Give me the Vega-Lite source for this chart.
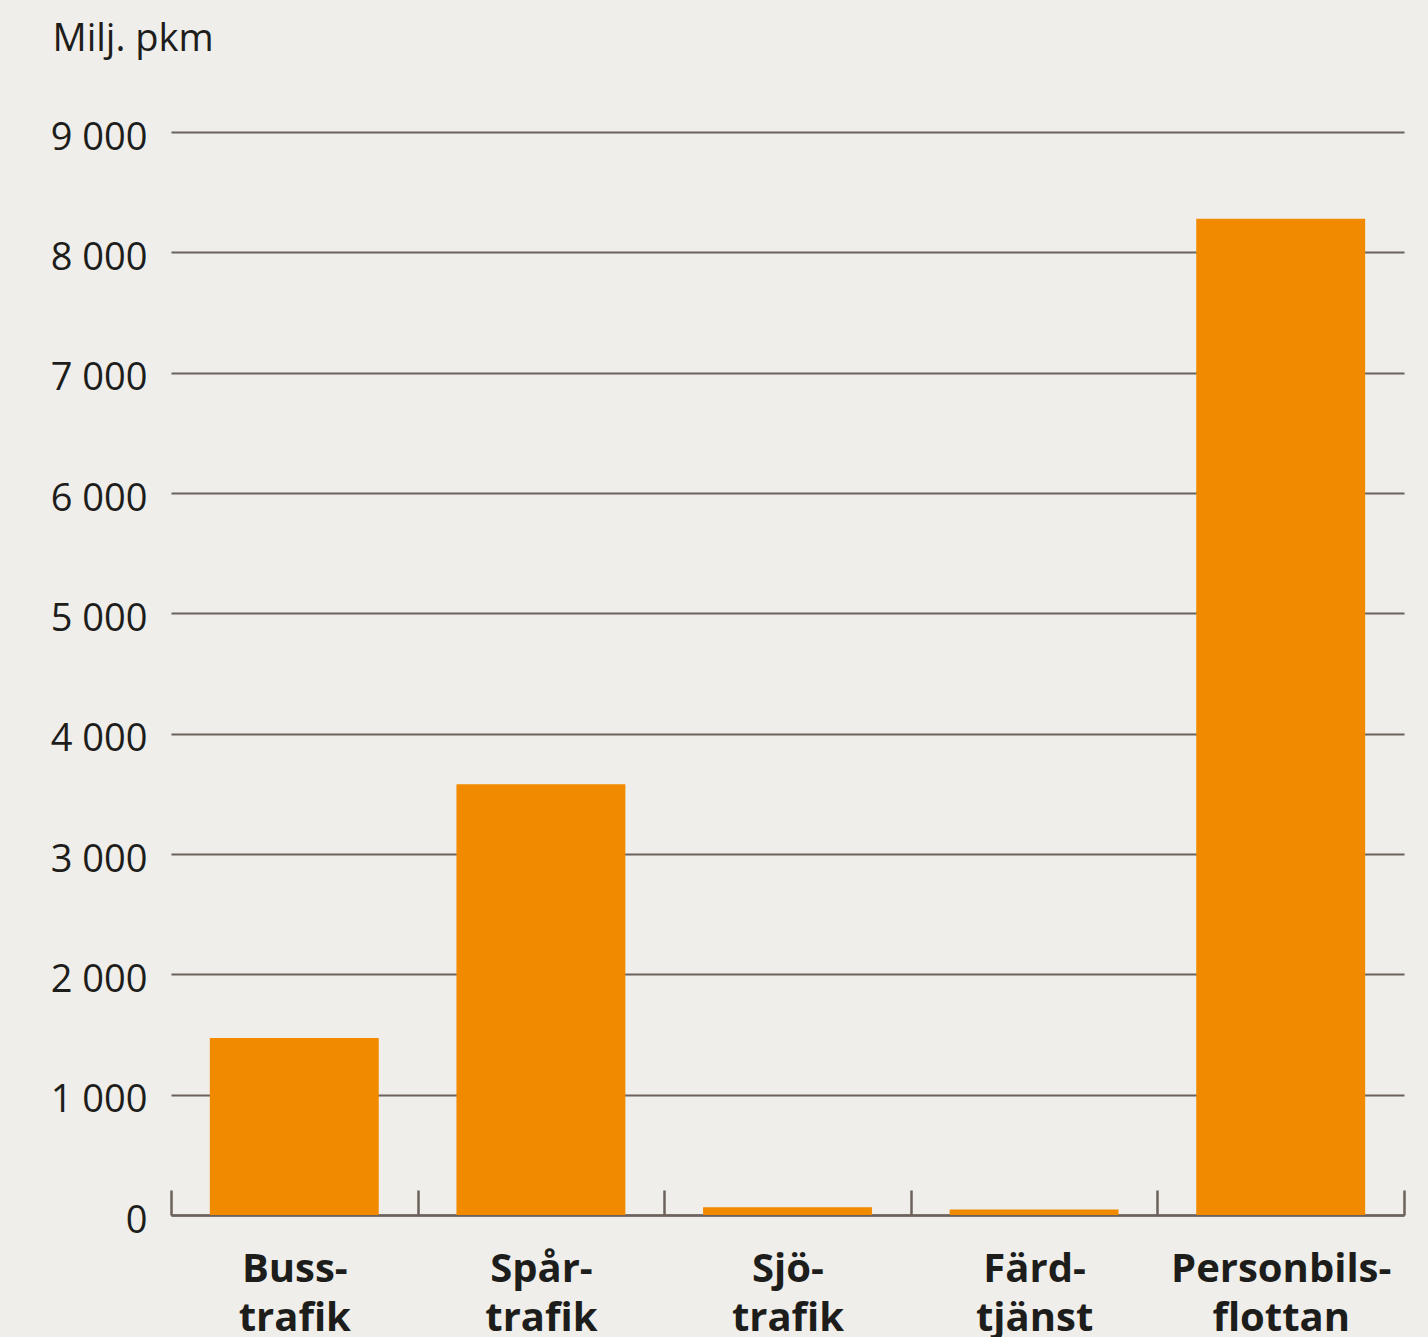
{
  "$schema": "https://vega.github.io/schema/vega-lite/v6.json",
  "width": 1233,
  "height": 1083,
  "autosize": {"type": "none"},
  "padding": {"left": 171, "top": 132, "right": 24, "bottom": 122},
  "background": "#efeeea",
  "config": {
    "view": {"stroke": null},
    "font": "Open Sans"
  },
  "data": {
    "values": [
      {"kategori": "Buss-|trafik", "pkm": 1470},
      {"kategori": "Spår-|trafik", "pkm": 3580},
      {"kategori": "Sjö-|trafik", "pkm": 65},
      {"kategori": "Färd-|tjänst", "pkm": 45},
      {"kategori": "Personbils-|flottan", "pkm": 8280}
    ]
  },
  "mark": {"type": "bar", "color": "#f28a00", "width": {"band": 0.685}},
  "encoding": {
    "x": {
      "field": "kategori",
      "type": "nominal",
      "sort": null,
      "scale": {"paddingInner": 0, "paddingOuter": 0},
      "axis": {
        "title": null,
        "labelAngle": 0,
        "labelExpr": "split(datum.label, '|')",
        "labelFont": "Open Sans",
        "labelFontSize": 40,
        "labelFontWeight": "bold",
        "labelColor": "#1d1d1b",
        "labelLineHeight": 49,
        "labelPadding": 59,
        "labelLimit": 0,
        "tickBand": "extent",
        "tickSize": -25,
        "tickWidth": 2.5,
        "tickColor": "#6d615c",
        "domainColor": "#6d615c",
        "domainWidth": 2.5,
        "grid": false
      }
    },
    "y": {
      "field": "pkm",
      "type": "quantitative",
      "scale": {"domain": [0, 9000], "nice": false},
      "axis": {
        "values": [0, 1000, 2000, 3000, 4000, 5000, 6000, 7000, 8000, 9000],
        "labelExpr": "replace(format(datum.value, ',d'), ',', ' ')",
        "labelFont": "Open Sans",
        "labelFontSize": 38,
        "labelColor": "#1d1d1b",
        "labelPadding": 24,
        "labelOffset": 6,
        "ticks": false,
        "domain": false,
        "grid": true,
        "gridColor": "#6d615c",
        "gridWidth": 2,
        "title": "Milj. pkm",
        "titleFont": "Open Sans",
        "titleFontSize": 38,
        "titleFontWeight": "normal",
        "titleColor": "#1d1d1b",
        "titleAngle": 0,
        "titleAlign": "left",
        "titleBaseline": "alphabetic",
        "titleX": -119,
        "titleY": -82
      }
    }
  }
}
